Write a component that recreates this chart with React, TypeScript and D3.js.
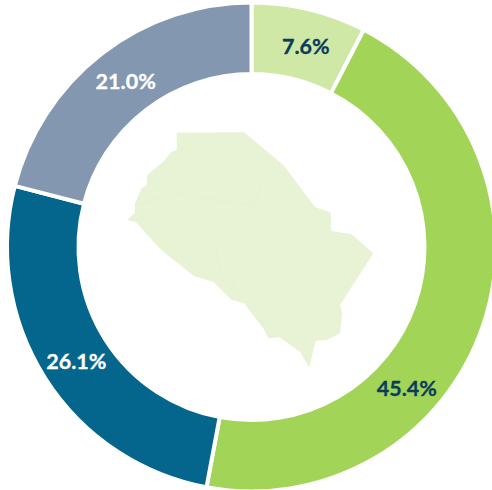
import React from "react";
import * as d3 from "d3";

const categories = ["A", "B", "C", "D"];
const shares = [7.6, 45.4, 26.1, 21.0];
const labels = ["7.6%", "45.4%", "26.1%", "21.0%"];
const sliceColors = ["#cfe8a6", "#a2d557", "#05668d", "#8497b0"];
const labelColors = ["#0b3c5d", "#0b3c5d", "#ffffff", "#ffffff"];
const labelOffsets: [number, number][] = [[5, 2], [-42, 73], [1, 2], [2, -1]];

const regionOutline: [number, number][] = [
  [176.7, 132.7], [244, 132.3], [283.3, 165], [286.7, 169.3], [315, 207.3], [330.7, 212.3], [331.3, 231],
  [351.7, 234.3], [373.3, 253.3], [340, 305], [342.3, 313.3], [340, 333.3], [326.7, 340], [315.7, 340.7],
  [309.3, 367.3], [300, 351.7], [279.3, 337.3], [268.3, 338.3], [263.3, 328.3], [244, 303.3], [231.7, 300],
  [213.3, 281.7], [194, 276], [163.3, 251.7], [155, 243.3], [136, 222.3], [127.3, 220], [135, 212.7],
  [135, 203.3], [141.7, 188.3], [146.7, 185], [147.3, 175], [163.3, 161.7], [171.7, 151.7], [176.7, 150],
];
const regionSeams: [number, number][][] = [
  [[137, 205], [175, 193], [215, 200], [250, 205], [255, 202], [265, 178], [280, 168]],
  [[255, 202], [240, 225], [222, 235], [216, 250], [220, 270], [233, 280], [235, 290]],
];

const W = 492;
const H = 490;
const cx = 251.5;
const cy = 247;
const outerR = 244.5;
const innerR = 173;

export default function App() {
  const pie = d3.pie<number>().sort(null).value((d) => d);
  const arcs = pie(shares);
  const arc = d3.arc<d3.PieArcDatum<number>>().innerRadius(innerR).outerRadius(outerR);
  const line = d3.line();
  return (
    <svg width={W} height={H} viewBox={`0 0 ${W} ${H}`} style={{ position: "absolute", left: 0, top: 0 }}>
      <g transform={`translate(${cx},${cy})`}>
        {arcs.map((a, i) => (
          <path key={categories[i]} d={arc(a) ?? ""} fill={sliceColors[i]} stroke="#fff" strokeWidth={4} />
        ))}
        {arcs.map((a, i) => {
          const [x, y] = arc.centroid(a);
          return (
            <text
              key={labels[i]}
              x={x + labelOffsets[i][0]}
              y={y + labelOffsets[i][1]}
              textAnchor="middle"
              dominantBaseline="central"
              fontFamily="Lato, sans-serif"
              fontWeight={700}
              fontSize={21.5}
              fill={labelColors[i]}
              stroke={labelColors[i]}
              strokeWidth={0.3}
            >
              {labels[i]}
            </text>
          );
        })}
      </g>
      <path d={(line(regionOutline) ?? "") + "Z"} fill="#e8f2d5" />
      {regionSeams.map((s, i) => (
        <path key={i} d={line(s) ?? ""} fill="none" stroke="#e6f1d2" strokeWidth={1} />
      ))}
    </svg>
  );
}
